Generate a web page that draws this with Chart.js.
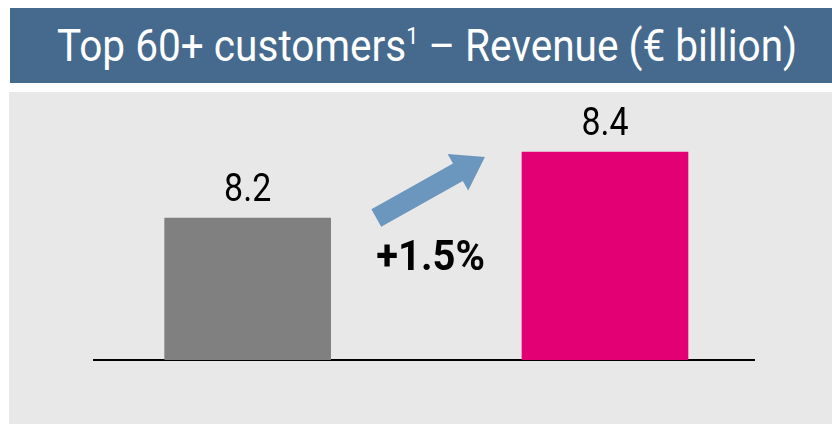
<!DOCTYPE html>
<html>
<head>
<meta charset="utf-8">
<script src="https://cdn.jsdelivr.net/npm/chart.js@4/dist/chart.umd.min.js"></script>
<style>
  html, body {
    margin: 0;
    padding: 0;
    width: 832px;
    height: 424px;
    background: #ffffff;
    overflow: hidden;
    font-family: Roboto, "Liberation Sans", Arial, sans-serif;
  }
  #titleBar {
    position: absolute;
    left: 10px;
    top: 8px;
    width: 822px;
    height: 75px;
    background: #456a8e;
  }
  #titleText {
    position: absolute;
    left: 57px;
    top: 8px;
    color: #ffffff;
    font-size: 45px;
    line-height: 75px;
    white-space: nowrap;
    transform-origin: 0 0;
  }
  #titleText sup {
    font-size: 24px;
    line-height: 0;
    vertical-align: 17px;
  }
  #panel {
    position: absolute;
    left: 9px;
    top: 92px;
    width: 823px;
    height: 332px;
    background: #e8e8e8;
  }
</style>
</head>
<body>
<div id="titleBar"></div>
<div id="titleText">Top 60+ customers<sup>1</sup> – Revenue (€ billion)</div>
<div id="panel"><canvas id="revenueChart"></canvas></div>

<script>
const categories = ["Previous year", "Current year"];
const revenue = [8.2, 8.4];
const barColors = ["#808080", "#e20074"];
const growthLabel = "+1.5%";

// value axis is cut off below the bars, like on the slide
const yMin = 7.77;
const yMax = 8.582;

// arrow between the bars, in data units
const arrowFrom = { x: 0.36, y: 8.2 };
const arrowTo = { x: 0.664, y: 8.385 };

const baseFont = "Roboto, 'Liberation Sans', Arial, sans-serif";

// the slide font is condensed, so squeeze the title to its width
const titleText = document.getElementById("titleText");
titleText.style.transform = `scaleX(${740 / titleText.offsetWidth})`;

const drawNarrowText = (ctx, text, x, y, font, squeeze) => {
  ctx.save();
  ctx.font = font;
  ctx.textAlign = "center";
  ctx.textBaseline = "alphabetic";
  ctx.translate(x, y);
  ctx.scale(squeeze, 1);
  ctx.fillText(text, 0, 0);
  ctx.restore();
};

const valueLabels = {
  id: "valueLabels",
  afterDatasetsDraw(chart) {
    const { ctx } = chart;
    const meta = chart.getDatasetMeta(0);
    ctx.save();
    ctx.fillStyle = "#000000";
    meta.data.forEach((bar, index) => {
      drawNarrowText(ctx, revenue[index].toFixed(1), bar.x, bar.y - 17, `39px ${baseFont}`, 0.87);
    });
    ctx.restore();
  },
};

const growthArrow = {
  id: "growthArrow",
  afterDatasetsDraw(chart) {
    const { ctx, scales } = chart;
    const x0 = scales.x.getPixelForValue(arrowFrom.x);
    const y0 = scales.y.getPixelForValue(arrowFrom.y);
    const x1 = scales.x.getPixelForValue(arrowTo.x);
    const y1 = scales.y.getPixelForValue(arrowTo.y);
    const length = Math.hypot(x1 - x0, y1 - y0);
    const ux = (x1 - x0) / length;
    const uy = (y1 - y0) / length;
    const nx = -uy;
    const ny = ux;
    const shaft = 10;
    const head = 21;
    const headLength = 31;
    const bx = x1 - ux * headLength;
    const by = y1 - uy * headLength;

    ctx.save();
    ctx.fillStyle = "#6b96bd";
    ctx.beginPath();
    ctx.moveTo(x0 + nx * shaft, y0 + ny * shaft);
    ctx.lineTo(bx + nx * shaft, by + ny * shaft);
    ctx.lineTo(bx + nx * head, by + ny * head);
    ctx.lineTo(x1, y1);
    ctx.lineTo(bx - nx * head, by - ny * head);
    ctx.lineTo(bx - nx * shaft, by - ny * shaft);
    ctx.lineTo(x0 - nx * shaft, y0 - ny * shaft);
    ctx.closePath();
    ctx.fill();

    ctx.fillStyle = "#000000";
    drawNarrowText(ctx, growthLabel, (x0 + x1) / 2, y0 + 52, `bold 42px ${baseFont}`, 0.95);
    ctx.restore();
  },
};

new Chart(document.getElementById("revenueChart"), {
  type: "bar",
  data: {
    datasets: [
      {
        label: "Revenue (€ billion)",
        data: revenue.map((value, index) => ({ x: index, y: value })),
        backgroundColor: barColors,
        barThickness: 166,
      },
    ],
  },
  options: {
    responsive: true,
    maintainAspectRatio: false,
    animation: false,
    layout: {
      padding: { left: 85, right: 78, top: 0, bottom: 64 },
    },
    plugins: {
      legend: { display: false },
      tooltip: {
        callbacks: {
          title: (items) => categories[items[0].dataIndex],
        },
      },
    },
    scales: {
      x: {
        type: "linear",
        offset: false,
        min: -0.43,
        max: 1.417,
        grid: { display: false, drawTicks: false },
        ticks: { display: false },
        border: { display: true, color: "#000000", width: 2 },
      },
      y: {
        display: false,
        min: yMin,
        max: yMax,
      },
    },
  },
  plugins: [valueLabels, growthArrow],
});
</script>
</body>
</html>
